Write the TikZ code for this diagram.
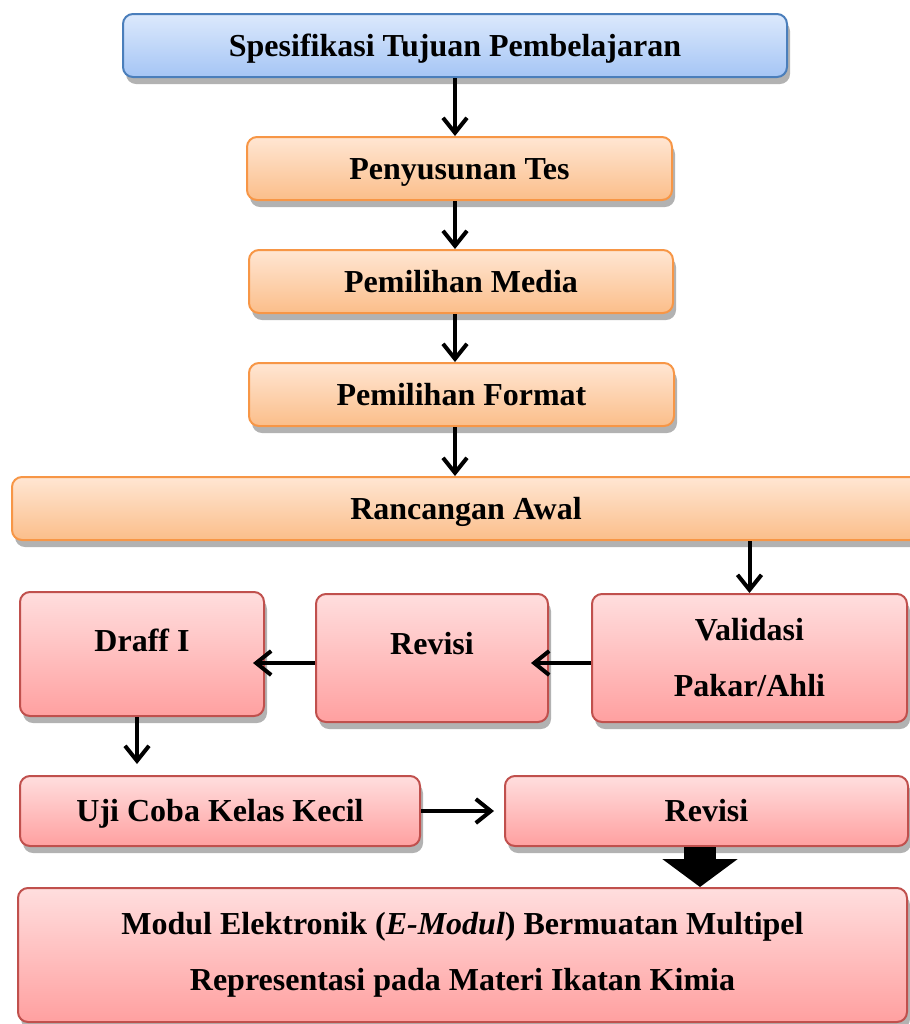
\documentclass[tikz,border=0pt]{standalone}
\usepackage{fontspec}
\setmainfont{Liberation Serif}
\usepackage{tikz}
\usetikzlibrary{arrows.meta,positioning,calc,shadows}
\definecolor{bluetop}{HTML}{DCE9FC}
\definecolor{bluebot}{HTML}{A5C5F5}
\definecolor{blueline}{HTML}{4A7EBB}
\definecolor{orangetop}{HTML}{FFE6D3}
\definecolor{orangebot}{HTML}{FBBE8A}
\definecolor{orangeline}{HTML}{F79646}
\definecolor{redtop}{HTML}{FFDEDE}
\definecolor{redbot}{HTML}{FFA0A0}
\definecolor{redline}{HTML}{C0504D}
\tikzset{
  stage/.style  ={rounded corners=5pt,line width=1pt,inner sep=0pt,
                  font=\bfseries\fontsize{16}{28}\selectfont,
                  drop shadow={shadow xshift=1.5pt,shadow yshift=-3.5pt,fill=black,opacity=0.3}},
  oneline/.style={text height=10.9pt,text depth=0pt},
  twoline/.style={align=center},
  bluebox/.style  ={stage,draw=blueline,top color=bluetop,bottom color=bluebot},
  orangebox/.style={stage,oneline,draw=orangeline,top color=orangetop,bottom color=orangebot},
  redbox/.style   ={stage,draw=redline,top color=redtop,bottom color=redbot},
  arr/.style    ={line width=2pt,-{Straight Barb[length=7.5pt,width=12pt]}},
  bigarr/.style ={line width=16pt,-{Triangle[length=14pt,width=37pt]}},
}
\begin{document}
\begin{tikzpicture}[x=0.5pt,y=-0.5pt]
  \useasboundingbox (0,0) rectangle (910,1024);
  % design chain
  \node[bluebox,oneline,minimum width=332pt,minimum height=31.5pt] (spes) at (455,45.5) {Spesifikasi Tujuan Pembelajaran};
  \node[orangebox,minimum width=212.5pt,minimum height=31.5pt] (tes) at (459.5,168.5) {Penyusunan Tes};
  \node[orangebox,minimum width=212pt,minimum height=31.5pt] (media) at (461,281.5) {Pemilihan Media};
  \node[orangebox,minimum width=212.5pt,minimum height=31.5pt] (format) at (461.5,394.5) {Pemilihan Format};
  \node[orangebox,minimum width=454pt,minimum height=31.5pt] (ranc) at (466,508.5) {Rancangan Awal};
  \foreach \a/\b in {spes/tes,tes/media,media/format,format/ranc}{
     \draw[arr] (\a.south -| spes.south) -- (\b.north -| spes.south);
  }
  % validation loop
  \node[redbox,minimum width=122pt,minimum height=62pt,text height=10.9pt,text depth=13.5pt] (draff) at (142,654) {Draff I};
  \node[redbox,minimum width=116pt,minimum height=64pt,text height=10.9pt,text depth=14.4pt] (rev1) at (432,658) {Revisi};
  \node[redbox,twoline,minimum width=157.5pt,minimum height=64pt] (valid) at (749.5,658) {Validasi\\Pakar/Ahli};
  \node[redbox,oneline,minimum width=200pt,minimum height=35pt] (uji) at (220,811) {Uji Coba Kelas Kecil};
  \node[redbox,oneline,minimum width=201.5pt,minimum height=35pt] (rev2) at (706.5,811) {Revisi};
  \node[redbox,twoline,minimum width=444.5pt,minimum height=67pt] (modul) at (462.5,955)
     {Modul Elektronik (\textit{E-Modul}) Bermuatan Multipel\\Representasi pada Materi Ikatan Kimia};
  \draw[arr] (valid.north |- ranc.south) -- (valid.north);
  \draw[arr,shorten >=-9pt] ([yshift=-2.5pt]valid.west) -- ([yshift=-2.5pt]valid.west -| rev1.east);
  \draw[arr,shorten >=-6pt] ([yshift=-2.5pt]rev1.west) -- ([yshift=-2.5pt]rev1.west -| draff.east);
  \draw[arr,shorten >=5.5pt] ([xshift=-2.5pt]draff.south) -- ([xshift=-2.5pt]draff.south |- uji.north);
  \draw[arr,shorten >=5pt] (uji.east) -- (uji.east -| rev2.west);
  % final product
  \draw[bigarr] ([xshift=-3.25pt]rev2.south) -- ([xshift=-3.25pt]rev2.south |- modul.north);
\end{tikzpicture}
\end{document}
